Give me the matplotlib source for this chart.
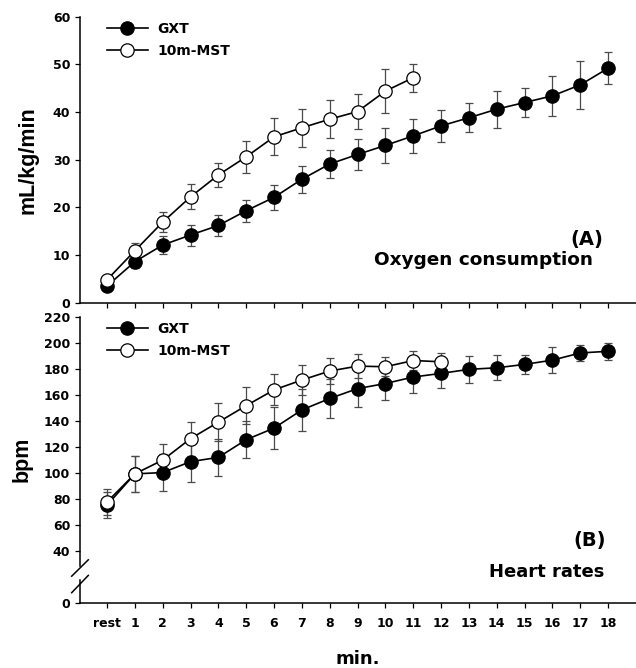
import matplotlib
matplotlib.use("Agg")
import matplotlib.pyplot as plt
import numpy as np

plt.rcParams['font.family'] = ['DejaVu Sans']
plt.rcParams['font.weight'] = 'bold'

x_labels = ['rest'] + [str(i) for i in range(1, 19)]

# Oxygen consumption (mL/kg/min)
vo2_gxt = [3.5, 8.6, 12.1, 14.2, 16.2, 19.3, 22.1, 25.9, 29.1, 31.1, 33.0, 35.0,
           37.1, 38.8, 40.6, 42.0, 43.4, 45.7, 49.2]
vo2_gxt_err = [0.8, 1.3, 1.8, 2.2, 2.3, 2.3, 2.6, 2.8, 3.0, 3.2, 3.6, 3.5,
               3.4, 3.0, 3.9, 3.1, 4.2, 5.1, 3.4]
vo2_mst = [4.8, 10.9, 16.9, 22.2, 26.8, 30.6, 34.8, 36.7, 38.5, 40.1, 44.4, 47.2]
vo2_mst_err = [0.5, 1.7, 2.1, 2.6, 2.6, 3.4, 3.9, 4.0, 4.0, 3.7, 4.6, 2.9]

# Heart rates (bpm)
hr_gxt = [75.0, 99.1, 100.1, 108.5, 111.8, 125.4, 134.3, 148.3, 157.1, 164.7,
          168.6, 173.6, 176.4, 179.5, 180.7, 183.3, 186.6, 192.1, 193.4]
hr_gxt_err = [10, 14, 14, 16, 14, 14, 16, 16, 15, 14, 13, 12, 11, 10.5, 9.5,
              7.5, 10, 6.5, 6.5]
hr_mst = [77.5, 99.1, 109.7, 126.2, 138.9, 151.6, 163.7, 171.3, 178.2, 182.0,
          181.5, 186.3, 185.3]
hr_mst_err = [10, 14, 12.4, 13, 14.5, 14, 12, 11.4, 10, 9, 7.4, 7, 7]

W, H = 636, 668
fig = plt.figure(figsize=(W / 100, H / 100), dpi=100)

def ax_rect(left_px, top_px, right_px, bottom_px):
    return [left_px / W, 1 - bottom_px / H, (right_px - left_px) / W, (bottom_px - top_px) / H]

ax1 = fig.add_axes(ax_rect(80, 16.7, 636, 302.7))
ax2 = fig.add_axes(ax_rect(80, 316.7, 636, 602.7))

YLABEL_FONT = ['Liberation Sans', 'DejaVu Sans']

def draw(ax, gxt, gxt_err, mst, mst_err):
    xg = np.arange(len(gxt))
    xm = np.arange(len(mst))
    ax.errorbar(xg, gxt, yerr=gxt_err, fmt='none', ecolor='#4a4a4a', elinewidth=0.9,
                capsize=2.7, capthick=0.9, zorder=2)
    ax.errorbar(xm, mst, yerr=mst_err, fmt='none', ecolor='#4a4a4a', elinewidth=0.9,
                capsize=2.7, capthick=0.9, zorder=2)
    ax.plot(xg, gxt, '-o', color='black', lw=1.2, ms=9.6, mfc='black', mec='black',
            mew=0.9, label='GXT', zorder=3)
    ax.plot(xm, mst, '-o', color='black', lw=1.2, ms=9.6, mfc='white', mec='black',
            mew=0.9, label='10m-MST', zorder=4)
    ax.set_xlim(-0.97, 19.0)
    ax.set_xticks(np.arange(len(x_labels)))
    for s in ['top', 'right']:
        ax.spines[s].set_visible(False)
    for s in ['left', 'bottom']:
        ax.spines[s].set_linewidth(1.1)
    ax.tick_params(direction='out', length=3.6, width=0.9, labelsize=9, pad=3.5)
    ax.legend(loc='upper left', bbox_to_anchor=(0.048, 0.982), frameon=False,
              borderaxespad=0, borderpad=0,
              handlelength=2.95, handletextpad=0.7, labelspacing=0.56,
              prop={'weight': 'bold', 'size': 10})

draw(ax1, vo2_gxt, vo2_gxt_err, vo2_mst, vo2_mst_err)
ax1.set_ylim(0, 60)
ax1.set_yticks(np.arange(0, 61, 10))
ax1.set_xticklabels([])
ax1.set_ylabel('mL/kg/min', fontsize=15.5, fontweight='bold', labelpad=10,
               family=YLABEL_FONT)
ax1.text(0.9406, 0.2227, '(A)', transform=ax1.transAxes, ha='right', va='center',
         fontsize=14, fontweight='bold')
ax1.text(0.9227, 0.1318, 'Oxygen consumption', transform=ax1.transAxes, ha='right',
         va='baseline', fontsize=13.3, fontweight='bold')

draw(ax2, hr_gxt, hr_gxt_err, hr_mst, hr_mst_err)
ax2.set_ylim(0, 220)
ax2.set_yticks([0, 40, 60, 80, 100, 120, 140, 160, 180, 200, 220])
ax2.set_xticklabels(x_labels)
ax2.tick_params(axis='x', pad=7)
ax2.set_ylabel('bpm', fontsize=15.5, fontweight='bold', labelpad=8.5,
               family=YLABEL_FONT)
ax2.set_xlabel('min.', fontsize=13, fontweight='bold', labelpad=14)
ax2.text(0.946, 0.219, '(B)', transform=ax2.transAxes, ha='right', va='center',
         fontsize=14, fontweight='bold')
ax2.text(0.944, 0.0899, 'Heart rates', transform=ax2.transAxes, ha='right',
         va='baseline', fontsize=13, fontweight='bold')

# axis break on the left spine of the bottom panel
ax2.spines['left'].set_visible(False)
tr = ax2.get_yaxis_transform()
ax2.plot([0, 0], [28.5, 220], transform=tr, color='black', lw=1.1, clip_on=False)
ax2.plot([0, 0], [0, 17.5], transform=tr, color='black', lw=1.1, clip_on=False)
dx = 8.3 / 556
for yb in [(20.4, 33.0), (7.7, 21.0)]:
    ax2.plot([-dx, dx], [yb[0], yb[1]], transform=tr, color='black', lw=1.1,
             clip_on=False)

fig.savefig('out.png', dpi=100)
